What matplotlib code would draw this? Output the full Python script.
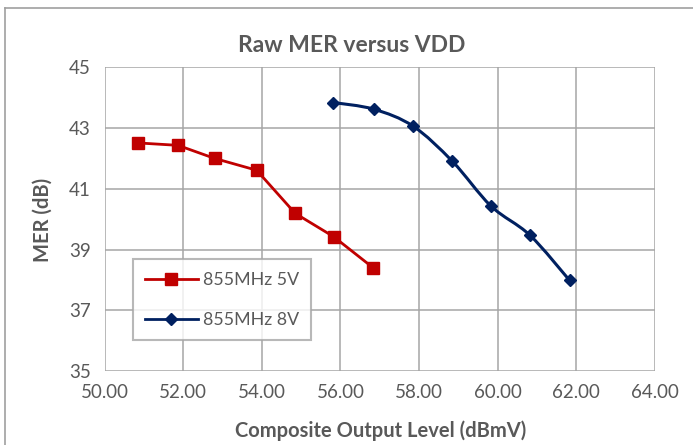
import matplotlib
matplotlib.use("Agg")
import matplotlib.pyplot as plt
import numpy as np
from matplotlib.path import Path
from matplotlib.patches import PathPatch
from matplotlib.lines import Line2D

plt.rcParams['font.family'] = ['Lato', 'DejaVu Sans']

title = "Raw MER versus VDD"
xlabel = "Composite Output Level (dBmV)"
ylabel = "MER (dB)"

s5_label = "855MHz 5V"
s5_x = [50.85, 51.87, 52.80, 53.87, 54.85, 55.83, 56.83]
s5_y = [42.51, 42.43, 42.00, 41.61, 40.19, 39.42, 38.40]

s8_label = "855MHz 8V"
s8_x = [55.82, 56.85, 57.85, 58.85, 59.83, 60.82, 61.83]
s8_y = [43.84, 43.62, 43.06, 41.90, 40.43, 39.47, 37.98]

xticks = [50, 52, 54, 56, 58, 60, 62, 64]
yticks = [35, 37, 39, 41, 43, 45]

red = "#C00000"
blue = "#002060"
txt = "#595959"
grid = "#A6A6A6"

W, H = 693, 445
fig = plt.figure(figsize=(W / 100, H / 100), dpi=100)
ax = fig.add_axes([104.5 / W, 1 - 371 / H, (655 - 104.5) / W, (371 - 67.3) / H])

ax.set_xlim(50, 64)
ax.set_ylim(35, 45)
ax.set_xticks(xticks)
ax.set_xticklabels([f"{v:.2f}" for v in xticks])
ax.set_yticks(yticks)
ax.grid(True, color=grid, linewidth=1.1)
ax.set_axisbelow(True)
for s in ax.spines.values():
    s.set_visible(False)
ax.tick_params(length=0, labelsize=13.5, colors=txt)
ax.tick_params(axis='x', pad=9)
ax.tick_params(axis='y', pad=10)

# Red series: straight segments
ax.plot(s5_x, s5_y, color=red, linewidth=2, marker='s', markersize=8,
        zorder=3)

# Blue series: smoothed curve (Excel-style Bezier), markers at data points
def smooth_path(x, y, t=1 / 6):
    pts = np.column_stack([x, y])
    n = len(pts)
    verts = [pts[0]]
    codes = [Path.MOVETO]
    for i in range(n - 1):
        p0 = pts[i - 1] if i > 0 else pts[i]
        p1 = pts[i]
        p2 = pts[i + 1]
        p3 = pts[i + 2] if i + 2 < n else pts[i + 1]
        c1 = p1 + (p2 - p0) * t
        c2 = p2 - (p3 - p1) * t
        verts += [c1, c2, p2]
        codes += [Path.CURVE4] * 3
    return Path(verts, codes)

ax.add_patch(PathPatch(smooth_path(s8_x, s8_y), facecolor='none',
                       edgecolor=blue, linewidth=2.2, zorder=3))
ax.plot(s8_x, s8_y, linestyle='none', color=blue, marker='D',
        markersize=6.5, zorder=4)

fig.text(352 / W, 1 - 45.5 / H, title, fontsize=16.5, fontweight='bold',
         color=txt, ha='center', va='center')
fig.text(381 / W, 1 - 431 / H, xlabel, fontsize=14.5, fontweight='bold',
         color=txt, ha='center', va='center')
fig.text(43 / W, 1 - 220 / H, ylabel, fontsize=14.5, fontweight='bold',
         color=txt, ha='center', va='center', rotation=90)

handles = [Line2D([], [], color=red, linewidth=2, marker='s', markersize=8),
           Line2D([], [], color=blue, linewidth=2, marker='D', markersize=6)]
leg = ax.legend(handles, [s5_label, s8_label], loc='upper left',
                bbox_to_anchor=((132.7 - 104.5) / (655 - 104.5),
                                1 - (259.3 - 67.3) / (371 - 67.3)),
                borderaxespad=0, fontsize=12.8, frameon=True, fancybox=False,
                edgecolor=grid, handlelength=2.95, handletextpad=0.3,
                labelspacing=1.35, borderpad=0.7, labelcolor=txt)
leg.get_frame().set_linewidth(1.5)

# outer chart border (top and left visible)
fig.add_artist(Line2D([5 / W, 5 / W], [0, 1 - 7.5 / H], color="#A0A0A0",
                      linewidth=1.2, transform=fig.transFigure))
fig.add_artist(Line2D([5 / W, 1], [1 - 7.5 / H, 1 - 7.5 / H], color="#A0A0A0",
                      linewidth=1.2, transform=fig.transFigure))

fig.savefig("out.png", dpi=100)
